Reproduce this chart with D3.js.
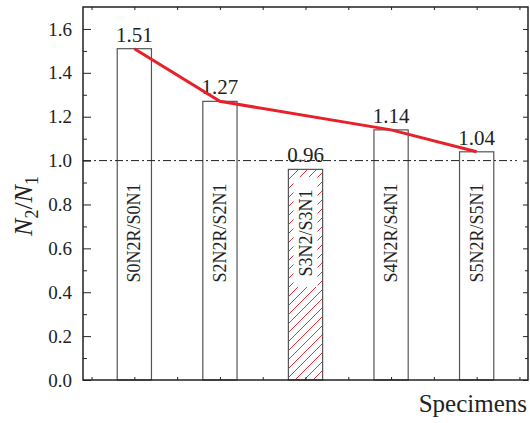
<!DOCTYPE html>
<html>
<head>
  <meta charset='utf-8'>
  <title>N2/N1 ratio</title>
  <script src="https://cdnjs.cloudflare.com/ajax/libs/d3/7.8.5/d3.min.js"></script>
  <style>
    body { margin: 0; background: white; }
    svg text { font-family: "Liberation Serif", "DejaVu Serif", "Times New Roman", serif; fill: #222; }
    .tick text { font-size: 19px; }
    .tick line { stroke: #222; }
  </style>
</head>
<body>
  <svg id="chart" width="530" height="423"></svg>
  <script>
    // data
    const specimens = ["S0N2R/S0N1", "S2N2R/S2N1", "S3N2/S3N1", "S4N2R/S4N1", "S5N2R/S5N1"];
    const ratios = [1.51, 1.27, 0.96, 1.14, 1.04];
    const hatched = [false, false, true, false, false];
    const trendRatios = [1.51, 1.27, null, 1.14, 1.04];
    const yTicks = [0, 0.2, 0.4, 0.6, 0.8, 1.0, 1.2, 1.4, 1.6];
    const yMinor = [0.1, 0.3, 0.5, 0.7, 0.9, 1.1, 1.3, 1.5];
    const xTicks = [0.5, 1, 1.5, 2, 2.5, 3, 3.5, 4, 4.5, 5, 5.5];
    const refLine = 1.0;

    const serif = '"Liberation Serif", "DejaVu Serif", "Times New Roman", serif';
    const mLeft = 83, mRight = 528, mTop = 7, mBottom = 380;
    const barW = 0.4;

    const svg = d3.select('#chart');
    const x = d3.scaleLinear().domain([0.4, 5.6]).range([mLeft, mRight]);
    const y = d3.scaleLinear().domain([0, 1.7]).range([mBottom, mTop]);

    const defs = svg.append('defs');
    defs.append('pattern')
      .attr('id', 'hatch')
      .attr('patternUnits', 'userSpaceOnUse')
      .attr('width', 9).attr('height', 9)
      .append('path')
      .attr('d', 'M0,9 L9,0 M-2,2 L2,-2 M7,11 L11,7')
      .attr('stroke', '#e8323a')
      .attr('stroke-width', 1);

    // bars
    const bars = svg.append('g');
    specimens.forEach((s, i) => {
      const cx = x(i + 1);
      bars.append('rect')
        .attr('x', x(i + 1 - barW / 2))
        .attr('y', y(ratios[i]))
        .attr('width', x(i + 1 + barW / 2) - x(i + 1 - barW / 2))
        .attr('height', y(0) - y(ratios[i]))
        .attr('fill', hatched[i] ? 'url(#hatch)' : 'white')
        .attr('stroke', '#555')
        .attr('stroke-width', 1.2);
      if (hatched[i]) {
        bars.append('rect')
          .attr('x', cx - 12).attr('y', 177)
          .attr('width', 24).attr('height', 110)
          .attr('fill', 'white');
      }
      bars.append('text')
        .attr('transform', `translate(${cx + 6},233) rotate(-90)`)
        .attr('text-anchor', 'middle')
        .style('font-family', serif)
        .style('font-size', '18px')
        .text(s);
      bars.append('text')
        .attr('x', cx)
        .attr('y', y(ratios[i]) - 7)
        .attr('text-anchor', 'middle')
        .style('font-family', serif)
        .style('font-size', '21px')
        .text(ratios[i].toFixed(2));
    });

    // reference line at 1.0
    svg.append('line')
      .attr('x1', mLeft).attr('x2', x(5.47))
      .attr('y1', y(refLine)).attr('y2', y(refLine))
      .attr('stroke', '#222')
      .attr('stroke-width', 1)
      .attr('stroke-dasharray', '8,3,2,3');

    // trend line
    const line = d3.line()
      .x(d => x(d.i + 1))
      .y(d => y(d.v));
    svg.append('path')
      .datum(trendRatios.map((v, i) => ({ v, i })).filter(d => d.v !== null))
      .attr('d', line)
      .attr('fill', 'none')
      .attr('stroke', '#e8202a')
      .attr('stroke-width', 3);

    // axes, ticks inward
    svg.append('g')
      .attr('transform', `translate(${mLeft},0)`)
      .call(d3.axisLeft(y).tickValues(yTicks).tickSize(-8).tickPadding(11).tickFormat(d3.format('.1f')))
      .call(g => g.attr('font-family', serif).attr('font-size', 19))
      .call(g => g.selectAll('text').style('font-family', serif).style('font-size', '19px'))
      .call(g => g.select('.domain').remove());
    svg.append('g')
      .attr('transform', `translate(${mLeft},0)`)
      .call(d3.axisLeft(y).tickValues(yMinor).tickSize(-4).tickFormat(''))
      .call(g => g.select('.domain').remove());
    svg.append('g')
      .attr('transform', `translate(${mRight},0)`)
      .call(d3.axisRight(y).tickValues(yTicks).tickSize(-5).tickFormat(''))
      .call(g => g.select('.domain').remove());
    svg.append('g')
      .attr('transform', `translate(${mRight},0)`)
      .call(d3.axisRight(y).tickValues(yMinor).tickSize(-3).tickFormat(''))
      .call(g => g.select('.domain').remove());
    svg.append('g')
      .attr('transform', `translate(0,${mBottom})`)
      .call(d3.axisBottom(x).tickValues(xTicks).tickSize(-3).tickFormat(''))
      .call(g => g.select('.domain').remove());
    svg.append('g')
      .attr('transform', `translate(0,${mTop})`)
      .call(d3.axisTop(x).tickValues(xTicks).tickSize(-3).tickFormat(''))
      .call(g => g.select('.domain').remove());

    // frame
    svg.append('rect')
      .attr('x', mLeft).attr('y', mTop)
      .attr('width', mRight - mLeft).attr('height', mBottom - mTop)
      .attr('fill', 'none')
      .attr('stroke', '#222')
      .attr('stroke-width', 1.5);

    // axis titles
    const yt = svg.append('text')
      .attr('transform', 'translate(32,206) rotate(-90)')
      .attr('text-anchor', 'middle')
      .style('font-family', serif)
      .style('font-size', '26px');
    yt.append('tspan').style('font-style', 'italic').text('N');
    yt.append('tspan').attr('dy', 6).style('font-size', '18px').text('2');
    yt.append('tspan').attr('dy', -6).text('/');
    yt.append('tspan').style('font-style', 'italic').text('N');
    yt.append('tspan').attr('dy', 6).style('font-size', '18px').text('1');

    svg.append('text')
      .attr('x', 527).attr('y', 412)
      .attr('text-anchor', 'end')
      .style('font-family', serif)
      .style('font-size', '25px')
      .text('Specimens');
  </script>
</body>
</html>
